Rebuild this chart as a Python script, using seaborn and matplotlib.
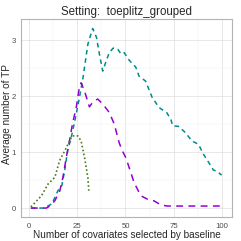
import numpy as np
import pandas as pd
import matplotlib
matplotlib.use("Agg")
import matplotlib.pyplot as plt
import seaborn as sns
from matplotlib.ticker import MultipleLocator

# curves
teal_x = [1, 8, 12, 15, 17, 18.5, 20, 22, 24, 26, 28, 30.5, 33, 35, 36.5, 38.2, 40, 41.6, 43.6, 46,
          47.6, 49.3, 52, 55.3, 57, 60.4, 63.8, 67.3, 71.5, 73.5, 74.5, 77.5, 81, 84.4, 87.8, 90.4,
          93, 95.5, 97.2, 99.8]
teal_y = [0, 0, 0.08, 0.31, 0.40, 0.67, 1.02, 1.28, 1.6, 1.95, 2.33, 2.93, 3.21, 3.05, 2.75, 2.45,
          2.63, 2.78, 2.86, 2.84, 2.76, 2.78, 2.64, 2.52, 2.36, 2.27, 1.98, 1.80, 1.70, 1.58, 1.47,
          1.46, 1.35, 1.20, 1.14, 0.96, 0.82, 0.68, 0.66, 0.59]

purple_x = [1, 9, 11, 13.4, 16, 17.6, 19.3, 21, 22.5, 24.5, 26.2, 27, 28.8, 31.3, 33, 35.6, 38.2,
            41.6, 44.2, 46.7, 48.4, 50.2, 52.7, 54.4, 57.9, 61.3, 64.7, 68.1, 71.5, 99]
purple_y = [0, 0, 0.04, 0.13, 0.31, 0.55, 0.9, 1.2, 1.5, 1.8, 2.18, 2.24, 2.09, 1.81, 1.89, 1.95,
            1.86, 1.71, 1.5, 1.17, 1.02, 0.9, 0.64, 0.46, 0.22, 0.16, 0.13, 0.06, 0.036, 0.036]

green_x = [1, 6.5, 9.9, 13.4, 15.9, 18.5, 21, 22.4, 25.3, 27, 28.8, 30.5, 31]
green_y = [0.02, 0.22, 0.43, 0.55, 0.85, 1.02, 1.20, 1.29, 1.29, 1.20, 0.90, 0.55, 0.31]

x_ticks = [0, 25, 50, 75, 100]
y_ticks = [0, 1, 2, 3]

sns.set_style("white")
plt.rcParams["font.family"] = ["Liberation Sans", "DejaVu Sans"]

fig = plt.figure(figsize=(2.41, 2.41), dpi=100)
ax = fig.add_axes([0.0885, 0.0996, 0.8725, 0.8214])

sns.lineplot(x=teal_x, y=teal_y, ax=ax, color="#008b8b", linewidth=1.1,
             linestyle=(0, (3, 2.5)), zorder=3)
sns.lineplot(x=purple_x, y=purple_y, ax=ax, color="#9400d3", linewidth=1.1,
             linestyle=(0, (4.5, 3.5)), zorder=3)
sns.lineplot(x=green_x, y=green_y, ax=ax, color="#4f7a22", linewidth=1.2,
             linestyle=(0, (1, 1.4)), zorder=3)

ax.set_xlim(-3.95, 104.95)
ax.set_ylim(-0.16, 3.38)
ax.set_xticks(x_ticks)
ax.set_yticks(y_ticks)
ax.xaxis.set_minor_locator(MultipleLocator(12.5))
ax.yaxis.set_minor_locator(MultipleLocator(0.5))
ax.grid(which="major", color="#dedede", linewidth=0.5, zorder=0)
ax.grid(which="minor", color="#efefef", linewidth=0.3, zorder=0)
ax.set_axisbelow(True)
for s in ax.spines.values():
    s.set_color("#b3b3b3")
    s.set_linewidth(0.8)
ax.tick_params(which="major", length=2.5, width=0.5, color="#b3b3b3",
               labelsize=5.6, labelcolor="#4d4d4d", pad=1.5)
ax.tick_params(which="minor", length=0)

ax.set_title("Setting:  toeplitz_grouped", fontsize=8.3, pad=3)
ax.set_xlabel("Number of covariates selected by baseline", fontsize=7.2, labelpad=0.5)
ax.set_ylabel("Average number of TP", fontsize=7.2)
ax.yaxis.set_label_coords(-0.045, 0.52)

fig.savefig("out.png", dpi=100)
